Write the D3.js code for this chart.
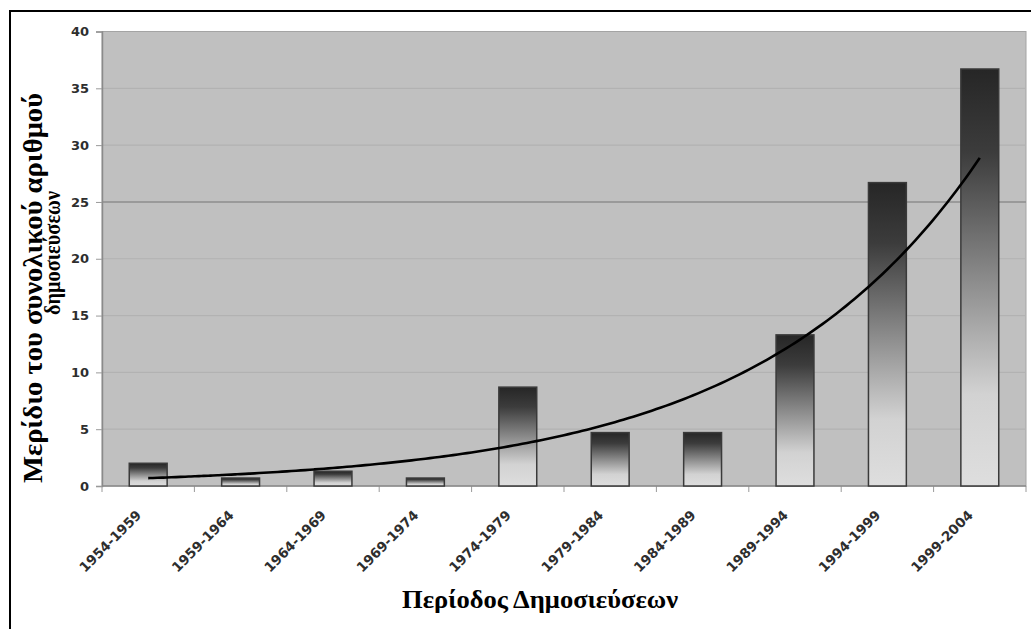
<!DOCTYPE html>
<html>
<head>
<meta charset="utf-8">
<script src="https://cdn.jsdelivr.net/npm/d3@7"></script>
<style>
  html, body { margin: 0; padding: 0; background: #fff; }
  svg { display: block; }
</style>
</head>
<body>
<svg id="chart" width="1031" height="629"></svg>
<script>
// Publication periods and their share (%) of all publications
const categories = ["1954-1959", "1959-1964", "1964-1969", "1969-1974", "1974-1979",
                    "1979-1984", "1984-1989", "1989-1994", "1994-1999", "1999-2004"];
const shares = [2.0, 0.7, 1.3, 0.7, 8.7, 4.7, 4.7, 13.3, 26.7, 36.7];
const yTicks = [0, 5, 10, 15, 20, 25, 30, 35, 40];
const yTitleLines = ["Μερίδιο του συνολικού αριθμού", "δημοσιεύσεων"];
const xTitle = "Περίοδος Δημοσιεύσεων";

const W = 1031, H = 629;
const plot = { left: 102, right: 1026, top: 31.5, bottom: 486 };

const svg = d3.select("#chart");

// Outer frame (runs off the right and bottom of the page)
svg.append("rect")
  .attr("x", 10).attr("y", 11)
  .attr("width", W + 20).attr("height", H + 20)
  .attr("fill", "#fff").attr("stroke", "#000").attr("stroke-width", 2);

const x = d3.scaleBand()
  .domain(categories)
  .range([plot.left, plot.right])
  .paddingInner(0.59)
  .paddingOuter(0.295);

const y = d3.scaleLinear().domain([0, 40]).range([plot.bottom, plot.top]);

// Plot area
svg.append("rect")
  .attr("x", plot.left).attr("y", plot.top)
  .attr("width", plot.right - plot.left).attr("height", plot.bottom - plot.top)
  .attr("fill", "#c0c0c0").attr("stroke", "#a4a4a4").attr("stroke-width", 1);

// Horizontal gridlines
svg.append("g")
  .selectAll("line")
  .data(yTicks.filter(t => t > 0 && t < 40))
  .join("line")
  .attr("x1", plot.left).attr("x2", plot.right)
  .attr("y1", d => y(d)).attr("y2", d => y(d))
  .attr("stroke", d => d === 25 ? "#8e8e8e" : "#b2b2b2")
  .attr("stroke-width", d => d === 25 ? 1.4 : 1.2);

// Y axis
const yAxis = svg.append("g")
  .attr("transform", `translate(${plot.left},0)`)
  .call(d3.axisLeft(y).tickValues(yTicks).tickSize(6).tickPadding(7).tickFormat(d3.format("d")));
yAxis.select(".domain").attr("stroke", "#8a8a8a").attr("stroke-width", 1.5);
yAxis.selectAll(".tick line").attr("stroke", "#9a9a9a");
yAxis.selectAll(".tick text")
  .attr("fill", "#2e2e2e")
  .style("font-family", "'DejaVu Sans', sans-serif")
  .style("font-weight", "bold")
  .style("font-size", "13px");

// X axis: ticks sit on the band boundaries
const step = x.step();
const boundaries = d3.range(categories.length + 1).map(i => plot.left + i * step);
svg.append("g")
  .selectAll("line")
  .data(boundaries)
  .join("line")
  .attr("x1", d => d).attr("x2", d => d)
  .attr("y1", plot.bottom).attr("y2", plot.bottom + 6)
  .attr("stroke", "#9a9a9a");
svg.append("line")
  .attr("x1", plot.left).attr("x2", plot.right)
  .attr("y1", plot.bottom).attr("y2", plot.bottom)
  .attr("stroke", "#8a8a8a").attr("stroke-width", 1.5);

svg.append("g")
  .selectAll("text")
  .data(categories)
  .join("text")
  .attr("transform", d => `translate(${x(d) + x.bandwidth() / 2 - 6},${plot.bottom + 30}) rotate(-45)`)
  .attr("text-anchor", "end")
  .attr("fill", "#2e2e2e")
  .style("font-family", "'DejaVu Sans', sans-serif")
  .style("font-weight", "bold")
  .style("font-size", "13.5px")
  .text(d => d);

// Bar gradient: dark at the top fading to light grey at the base
const defs = svg.append("defs");
const grad = defs.append("linearGradient")
  .attr("id", "barFill")
  .attr("x1", 0).attr("y1", 0).attr("x2", 0).attr("y2", 1);
[[0, "#262626"], [0.2, "#3c3c3c"], [0.5, "#8a8a8a"], [0.78, "#d2d2d2"], [1, "#dedede"]]
  .forEach(([o, c]) => grad.append("stop").attr("offset", o).attr("stop-color", c));

svg.append("g")
  .selectAll("rect")
  .data(categories.map((c, i) => ({ c, v: shares[i] })))
  .join("rect")
  .attr("x", d => x(d.c))
  .attr("y", d => y(d.v))
  .attr("width", x.bandwidth())
  .attr("height", d => y(0) - y(d.v))
  .attr("fill", "url(#barFill)")
  .attr("stroke", "#3a3a3a")
  .attr("stroke-width", 1.5);

// Exponential trend line fitted to the shares (least squares on ln y)
const idx = shares.map((_, i) => i + 1);
const lnY = shares.map(v => Math.log(v));
const mx = d3.mean(idx), my = d3.mean(lnY);
const b = d3.sum(idx, (xi, i) => (xi - mx) * (lnY[i] - my)) / d3.sum(idx, xi => (xi - mx) ** 2);
const a = my - b * mx;
const xi = d3.scaleLinear()
  .domain([1, categories.length])
  .range([x(categories[0]) + x.bandwidth() / 2, x(categories[categories.length - 1]) + x.bandwidth() / 2]);
const trend = d3.range(1, categories.length + 0.001, 0.05).map(t => [t, Math.exp(a + b * t)]);
svg.append("path")
  .datum(trend)
  .attr("fill", "none")
  .attr("stroke", "#000")
  .attr("stroke-width", 2.6)
  .attr("d", d3.line().x(d => xi(d[0])).y(d => y(d[1])).curve(d3.curveMonotoneX));

// Axis titles
const serif = "'Liberation Serif', 'Times New Roman', serif";
svg.append("text")
  .attr("transform", `translate(42,288) rotate(-90)`)
  .attr("text-anchor", "middle")
  .attr("textLength", 390).attr("lengthAdjust", "spacingAndGlyphs")
  .style("font-family", serif).style("font-weight", "bold").style("font-size", "27px")
  .attr("fill", "#000")
  .text(yTitleLines[0]);
svg.append("text")
  .attr("transform", `translate(60,253) rotate(-90)`)
  .attr("text-anchor", "middle")
  .attr("textLength", 124).attr("lengthAdjust", "spacingAndGlyphs")
  .style("font-family", serif).style("font-weight", "bold").style("font-size", "23px")
  .attr("fill", "#000")
  .text(yTitleLines[1]);

svg.append("text")
  .attr("x", 540).attr("y", 608)
  .attr("text-anchor", "middle")
  .attr("textLength", 276).attr("lengthAdjust", "spacingAndGlyphs")
  .style("font-family", serif).style("font-weight", "bold").style("font-size", "25px")
  .attr("fill", "#000")
  .text(xTitle);
</script>
</body>
</html>
